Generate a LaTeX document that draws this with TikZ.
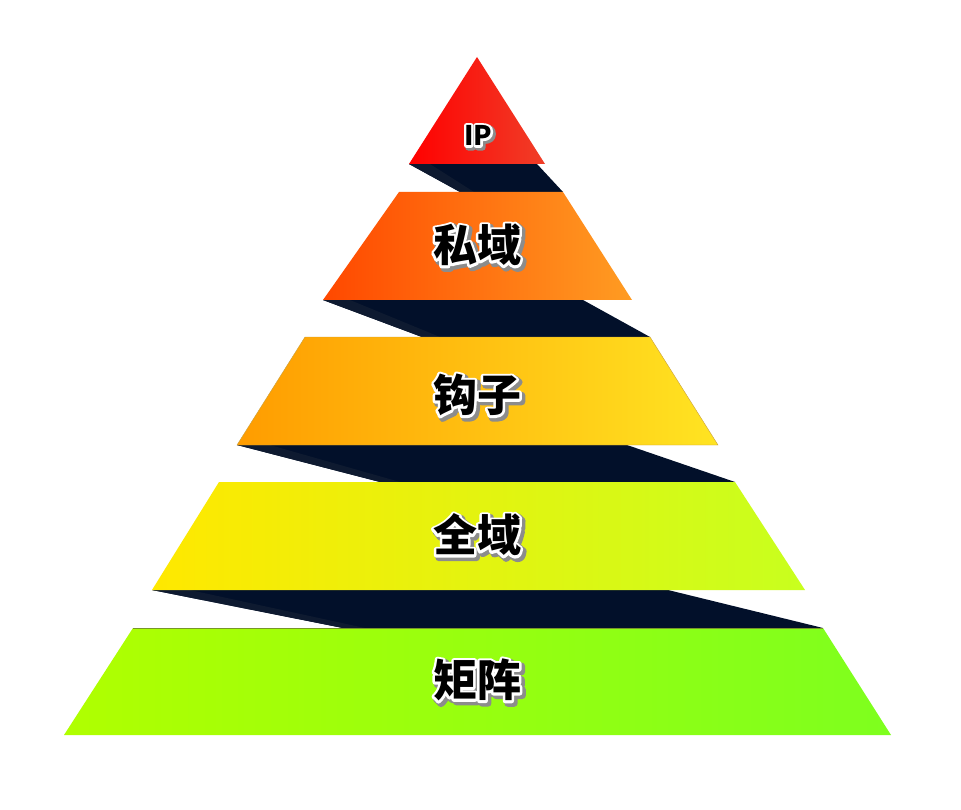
\documentclass[tikz,border=0pt]{standalone}
\usepackage{fontspec}
\newfontfamily\cjk{Noto Sans CJK SC}
\newcommand{\strokeonly}[3]{\special{pdf:literal direct q 1 Tr #1 w 1 j 1 J #2 RG}#3\special{pdf:literal direct Q}}
\begin{document}
\begin{tikzpicture}[x=1pt,y=-1pt,
  label/.style={font=\cjk\bfseries\fontsize{44}{44}\selectfont, text=black, inner sep=0pt},
  iplabel/.style={font=\cjk\bfseries\fontsize{27}{27}\selectfont, text=black, inner sep=0pt},
  tierline/.style={line width=0.4pt}
]
\definecolor{darkband}{HTML}{02102A}
\definecolor{darkband2}{HTML}{0E1A30}
\useasboundingbox (0,0) rectangle (961,810);
\fill[white] (0,0) rectangle (961,810);

% dark bands (shadows between tiers)
\fill[darkband] (409,164) -- (537,164) -- (563,192) -- (460,192) -- cycle;
\fill[darkband] (323,300) -- (583,300) -- (650,337) -- (422,337) -- cycle;
\fill[darkband] (237,445) -- (627,445) -- (735,482) -- (380,482) -- cycle;
\fill[darkband] (152,590) -- (668,590) -- (823,628) -- (343,628) -- cycle;
% subtle second shadow layer
\fill[darkband2] (409,164) -- (430,164) -- (474,192) -- (460,192) -- cycle;
\fill[darkband2] (323,300) -- (350,300) -- (440,337) -- (422,337) -- cycle;
\fill[darkband2] (237,445) -- (270,445) -- (400,482) -- (380,482) -- cycle;
\fill[darkband2] (152,590) -- (190,590) -- (365,628) -- (343,628) -- cycle;

% tiers
\shade[left color={rgb,255:red,255;green,0;blue,0}, right color={rgb,255:red,240;green,62;blue,40}]
  (477,57) -- (545,164) -- (409,164) -- cycle;
\shade[left color={rgb,255:red,255;green,72;blue,0}, right color={rgb,255:red,255;green,156;blue,34}]
  (399,192) -- (563,192) -- (632,300) -- (323,300) -- cycle;
\shade[left color={rgb,255:red,255;green,156;blue,0}, right color={rgb,255:red,255;green,228;blue,34}]
  (305,337) -- (650,337) -- (718,445) -- (237,445) -- cycle;
\shade[left color={rgb,255:red,255;green,232;blue,0}, middle color={rgb,255:red,255;green,255;blue,0}, right color={rgb,255:red,200;green,255;blue,30}]
  (219,482) -- (735,482) -- (805,590) -- (152,590) -- cycle;
\shade[left color={rgb,255:red,176;green,255;blue,0}, right color={rgb,255:red,126;green,255;blue,30}]
  (133,628) -- (823,628) -- (891,735) -- (64,735) -- cycle;
\draw[tierline, draw={rgb,255:red,120;green,150;blue,40}] (133,628) -- (823,628);
\draw[tierline, draw={rgb,255:red,200;green,160;blue,60}] (305,337) -- (650,337) -- (718,445) -- (237,445) -- cycle;

% labels: gray shadow, white outline, black fill
\node[iplabel, xshift=2pt, yshift=-2pt] (ips) at (478,135.5) {\strokeonly{6}{0.55 0.55 0.55}{IP}};
\node[iplabel] (ipo) at (478,135.5) {\strokeonly{4.5}{1 1 1}{IP}};
\node[iplabel] (ip) at (478,135.5) {IP};

\node[label, xshift=2.5pt, yshift=-2.5pt] (siyus) at (477,245) {\strokeonly{7}{0.55 0.55 0.55}{私域}};
\node[label] (siyuo) at (477,245) {\strokeonly{5}{1 1 1}{私域}};
\node[label] (siyu) at (477,245) {私域};

\node[label, xshift=2.5pt, yshift=-2.5pt] (gouzis) at (477,395) {\strokeonly{7}{0.55 0.55 0.55}{钩子}};
\node[label] (gouzio) at (477,395) {\strokeonly{5}{1 1 1}{钩子}};
\node[label] (gouzi) at (477,395) {钩子};

\node[label, xshift=2.5pt, yshift=-2.5pt] (quanyus) at (477,535) {\strokeonly{7}{0.55 0.55 0.55}{全域}};
\node[label] (quanyuo) at (477,535) {\strokeonly{5}{1 1 1}{全域}};
\node[label] (quanyu) at (477,535) {全域};

\node[label, xshift=2.5pt, yshift=-2.5pt] (juzhens) at (477,680) {\strokeonly{7}{0.55 0.55 0.55}{矩阵}};
\node[label] (juzheno) at (477,680) {\strokeonly{5}{1 1 1}{矩阵}};
\node[label] (juzhen) at (477,680) {矩阵};
\end{tikzpicture}
\end{document}
